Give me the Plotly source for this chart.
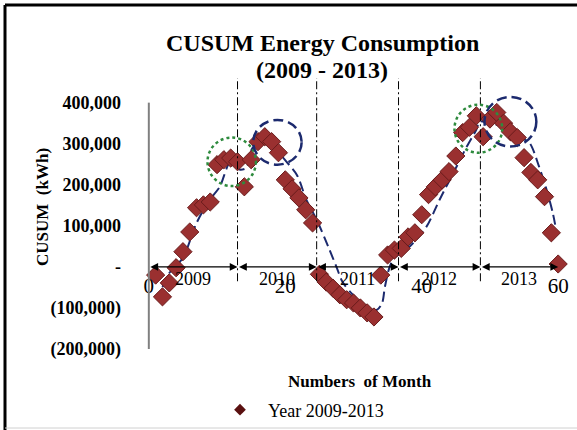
import plotly.graph_objects as go

# CUSUM values (kWh), one per month, 2009-2013
cusum_2009 = [-20000, -73000, -39000, -2000, 37000, 85000, 144000, 151000, 158000, 249000, 261000, 265000]
cusum_2010 = [256000, 195000, 261000, 305000, 317000, 305000, 278000, 212000, 190000, 168000, 139000, 107000]
cusum_2011 = [-18000, -37000, -52000, -68000, -80000, -88000, -100000, -112000, -122000, -20000, 29000, 41000]
cusum_2012 = [45000, 73000, 83000, 127000, 176000, 195000, 212000, 232000, 270000, 327000, 340000, 368000]
cusum_2013 = [317000, 360000, 376000, 350000, 329000, 315000, 266000, 230000, 212000, 171000, 83000, 7000]
cusum = cusum_2009 + cusum_2010 + cusum_2011 + cusum_2012 + cusum_2013
months = list(range(1, len(cusum) + 1))

# hand drawn trend curve (month, kWh)
trend_month = [2, 3, 5, 7, 8.9, 10.4, 11.9, 12.9, 13.3, 14.3, 15.2, 16.7, 17.7, 18.7, 19.6,
               21.7, 23.1, 24.6, 26.5, 27.5, 28.4, 29.9, 32.0, 33.4, 34.2, 34.6, 35.3, 36.0,
               38.2, 40.7, 42.6, 45.1, 46.6, 48.0, 48.5, 51.0, 52.4, 54.3, 55.8, 57.2, 58.3, 59.2, 59.7]
trend_val = [-49000, -15000, 22000, 107000, 163000, 195000, 254000, 244000, 237000, 241000, 290000,
             302000, 310000, 293000, 268000, 224000, 163000, 115000, 41000, 0, -37000, -68000, -98000,
             -105000, -88000, -49000, 0, 22000, 49000, 98000, 163000, 244000, 293000, 334000, 354000,
             346000, 354000, 317000, 302000, 244000, 188000, 132000, 90000]

year_labels = ['2009', '2010', '2011', '2012', '2013']
year_breaks = [0, 13.0, 24.6, 36.6, 48.6, 60]

y_ticks = [400000, 300000, 200000, 100000, 0, -100000, -200000]
y_ticktext = ['400,000', '300,000', '200,000', '100,000', '-', '(100,000)', '(200,000)']
x_ticks = [0, 20, 40, 60]

SERIF = 'Liberation Serif'
NAVY = '#1c2a6e'

# page geometry helpers (pixel -> paper)
L, R, T, B = 142, 12, 78, 81
W, H = 577, 430
PW, PH = W - L - R, H - T - B


def px(x):
    return (x - L) / PW


def py(y):
    return (H - B - y) / PH


fig = go.Figure()

fig.add_trace(go.Scatter(x=trend_month, y=trend_val, mode='lines',
                         line=dict(color=NAVY, width=2, dash='10px,5px', shape='spline', smoothing=0.8),
                         showlegend=False, hoverinfo='skip'))

fig.add_trace(go.Scatter(x=months, y=cusum, mode='markers', cliponaxis=False,
                         marker=dict(symbol='diamond', size=14, color='#9a3030',
                                     line=dict(color='#6a1c1c', width=1)),
                         showlegend=False))

# legend entry only
fig.add_trace(go.Scatter(x=[None], y=[None], mode='markers', name='Year 2009-2013',
                         marker=dict(symbol='diamond', size=9, color='#5a1010')))

shapes = []
# y axis line
shapes.append(dict(type='line', xref='x', yref='y', x0=0, x1=0, y0=-200000, y1=400000,
                   line=dict(color='#808080', width=2)))
# year separators
for b in year_breaks[1:-1]:
    shapes.append(dict(type='line', xref='x', yref='y', x0=b, x1=b, y0=-35000, y1=460000,
                       line=dict(color='black', width=1, dash='8px,3px,2px,3px')))
# highlight circles
shapes.append(dict(type='circle', xref='x', yref='y', x0=8.6, x1=15.7, y0=197000, y1=315000,
                   line=dict(color='#2e8b3e', width=2.5, dash='dot')))
shapes.append(dict(type='circle', xref='x', yref='y', x0=15.3, x1=22.4, y0=249000, y1=358000,
                   line=dict(color=NAVY, width=2.5, dash='10px,5px')))
shapes.append(dict(type='circle', xref='x', yref='y', x0=44.8, x1=51.8, y0=278000, y1=395000,
                   line=dict(color='#2e8b3e', width=2.5, dash='dot')))
shapes.append(dict(type='circle', xref='x', yref='y', x0=49.2, x1=56.8, y0=293000, y1=414000,
                   line=dict(color=NAVY, width=2.5, dash='10px,5px')))
# frame
shapes.append(dict(type='line', xref='paper', yref='paper', x0=px(5), x1=px(580), y0=py(5), y1=py(5),
                   line=dict(color='black', width=3)))
shapes.append(dict(type='line', xref='paper', yref='paper', x0=px(5), x1=px(5), y0=py(5), y1=py(432),
                   line=dict(color='black', width=3)))
shapes.append(dict(type='line', xref='paper', yref='paper', x0=px(5), x1=px(580), y0=py(428), y1=py(428),
                   line=dict(color='#d0d0d0', width=1)))

annotations = []
# double arrows and year labels along the zero line
for i, lab in enumerate(year_labels):
    a, b = year_breaks[i], year_breaks[i + 1]
    annotations.append(dict(x=b, y=0, ax=a, ay=0, xref='x', yref='y', axref='x', ayref='y', text='',
                            showarrow=True, arrowside='end+start', arrowhead=2, startarrowhead=2,
                            arrowsize=1.3, startarrowsize=1.3, arrowwidth=1.2, arrowcolor='black',
                            standoff=0, startstandoff=0))
    annotations.append(dict(x=(a + b) / 2, y=0, xref='x', yref='y', text=lab, showarrow=False,
                            xanchor='center', yanchor='middle', yshift=-12,
                            font=dict(family=SERIF, size=18, color='black')))


def label(x, y, text, size, angle=0):
    annotations.append(dict(x=px(x), y=py(y), xref='paper', yref='paper', showarrow=False,
                            xanchor='center', yanchor='middle', textangle=angle, text=text,
                            font=dict(family=SERIF, size=size, color='black')))


label(322, 43, '<b>CUSUM Energy Consumption</b>', 24)
label(322, 70, '<b>(2009 - 2013)</b>', 24)
label(42, 207, '<b>CUSUM&nbsp; (kWh)</b>', 17, angle=-90)
label(360, 381, '<b>Numbers&nbsp; of Month</b>', 17)

fig.update_layout(
    width=W, height=H,
    margin=dict(l=L, r=R, t=T, b=B, autoexpand=False),
    paper_bgcolor='white', plot_bgcolor='white',
    shapes=shapes, annotations=annotations,
    showlegend=True,
    legend=dict(x=px(212), y=py(410), xanchor='left', yanchor='middle', itemwidth=46,
                font=dict(family=SERIF, size=18, color='black'), bgcolor='rgba(0,0,0,0)'),
    xaxis=dict(range=[-1, 61], anchor='free', position=200000 / 660000, automargin=False,
               tickvals=x_ticks, ticks='', ticklabelstandoff=4,
               showline=False, showgrid=False, zeroline=False,
               tickfont=dict(family=SERIF, size=21, color='black')),
    yaxis=dict(range=[-200000, 460000], tickvals=y_ticks, automargin=False,
               ticktext=['<b>' + t + '</b>' for t in y_ticktext],
               ticks='', ticklabelstandoff=20,
               showline=False, showgrid=False, zeroline=False,
               tickfont=dict(family=SERIF, size=18, color='black')),
)

# drop the browser's default body margin so the figure sits at the page corner
fig.write_html("out.html", config={'displayModeBar': False},
               post_script="document.body.style.margin = '0px';")
